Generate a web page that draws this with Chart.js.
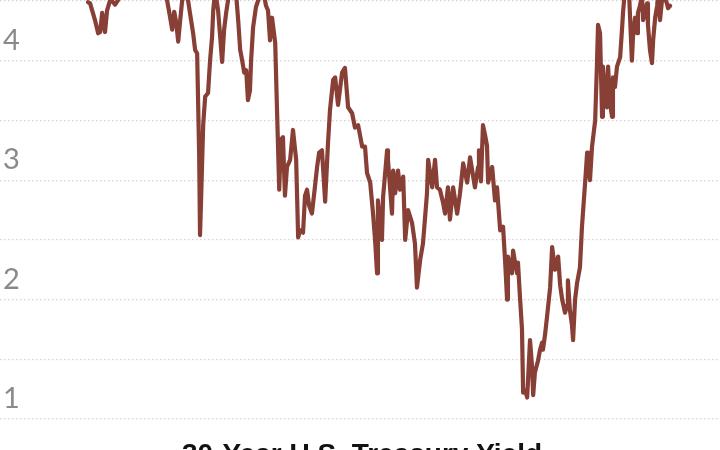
<!DOCTYPE html>
<html>
<head>
<meta charset="utf-8">
<script src="https://cdn.jsdelivr.net/npm/chart.js@4.4.1/dist/chart.umd.min.js"></script>
<style>
  html, body { margin: 0; padding: 0; background: #fff; }
</style>
</head>
<body>
<canvas id="yieldChart" width="720" height="450"></canvas>
<script>
// 30-year yield (decimal year -> percent)
const years = [
  2005.00, 2005.07, 2005.24, 2005.35, 2005.42, 2005.49, 2005.52, 2005.59, 2005.66, 2005.77,
  2005.87, 2005.94, 2006.05, 2006.18, 2006.46, 2006.81, 2007.16, 2007.51, 2007.68, 2007.75,
  2007.86, 2007.93, 2008.00, 2008.07, 2008.14, 2008.21, 2008.28, 2008.38, 2008.48, 2008.55,
  2008.66, 2008.73, 2008.80, 2008.87, 2008.90, 2008.94, 2009.01, 2009.08, 2009.18, 2009.25,
  2009.32, 2009.36, 2009.43, 2009.53, 2009.60, 2009.67, 2009.74, 2009.81, 2009.88, 2010.02,
  2010.16, 2010.23, 2010.30, 2010.37, 2010.44, 2010.51, 2010.57, 2010.64, 2010.68, 2010.75,
  2010.85, 2010.99, 2011.10, 2011.20, 2011.27, 2011.34, 2011.41, 2011.52, 2011.59, 2011.66,
  2011.72, 2011.79, 2011.86, 2011.93, 2012.04, 2012.14, 2012.25, 2012.32, 2012.39, 2012.49,
  2012.56, 2012.63, 2012.70, 2012.80, 2012.87, 2012.98, 2013.05, 2013.15, 2013.26, 2013.36,
  2013.43, 2013.54, 2013.61, 2013.71, 2013.85, 2013.95, 2014.06, 2014.20, 2014.30, 2014.41,
  2014.55, 2014.65, 2014.72, 2014.83, 2014.93, 2015.00, 2015.07, 2015.10, 2015.17, 2015.24,
  2015.28, 2015.42, 2015.45, 2015.59, 2015.63, 2015.70, 2015.80, 2015.87, 2015.98, 2016.05,
  2016.15, 2016.29, 2016.39, 2016.46, 2016.57, 2016.67, 2016.81, 2016.85, 2016.99, 2017.09,
  2017.16, 2017.26, 2017.37, 2017.44, 2017.54, 2017.61, 2017.72, 2017.86, 2017.96, 2018.07,
  2018.21, 2018.31, 2018.48, 2018.59, 2018.62, 2018.69, 2018.76, 2018.83, 2018.90, 2018.94,
  2019.08, 2019.18, 2019.25, 2019.36, 2019.46, 2019.53, 2019.60, 2019.63, 2019.70, 2019.77,
  2019.81, 2019.88, 2019.95, 2019.98, 2020.05, 2020.12, 2020.16, 2020.23, 2020.30, 2020.40,
  2020.47, 2020.51, 2020.57, 2020.68, 2020.75, 2020.82, 2020.85, 2020.92, 2020.99, 2021.10,
  2021.17, 2021.24, 2021.27, 2021.38, 2021.45, 2021.52, 2021.62, 2021.69, 2021.72, 2021.79,
  2021.86, 2021.90, 2021.97, 2022.04, 2022.14, 2022.21, 2022.32, 2022.39, 2022.42, 2022.49,
  2022.56, 2022.67, 2022.73, 2022.77, 2022.84, 2022.91, 2022.94, 2023.01, 2023.08, 2023.12,
  2023.19, 2023.26, 2023.29, 2023.36, 2023.43, 2023.54, 2023.61, 2023.64, 2023.71, 2023.78,
  2023.82, 2023.89, 2023.95, 2023.99, 2024.06, 2024.13, 2024.16, 2024.23, 2024.30, 2024.34,
  2024.41, 2024.48, 2024.51, 2024.58, 2024.65, 2024.69, 2024.76, 2024.83, 2024.86, 2024.93,
  2025.00, 2025.07, 2025.12, 2025.17, 2025.21, 2025.28
];

const yields = [
  4.49, 4.48, 4.34, 4.23, 4.24, 4.40, 4.34, 4.24, 4.42, 4.51,
  4.49, 4.47, 4.51, 4.60, 4.85, 4.75, 4.85, 5.05, 4.75, 4.51,
  4.36, 4.26, 4.41, 4.32, 4.16, 4.34, 4.51, 4.55, 4.51, 4.40,
  4.23, 4.09, 4.06, 3.22, 2.54, 2.86, 3.46, 3.70, 3.73, 4.00,
  4.20, 4.42, 4.59, 4.42, 4.21, 3.99, 4.26, 4.40, 4.51, 4.63,
  4.55, 4.34, 4.09, 4.00, 3.90, 3.92, 3.67, 3.75, 4.00, 4.28,
  4.45, 4.55, 4.59, 4.46, 4.42, 4.17, 4.36, 4.15, 3.53, 2.92,
  3.34, 3.36, 2.87, 3.11, 3.17, 3.42, 3.17, 2.52, 2.58, 2.56,
  2.87, 2.92, 2.79, 2.72, 2.87, 3.11, 3.23, 3.25, 2.82, 3.31,
  3.59, 3.84, 3.86, 3.63, 3.90, 3.94, 3.61, 3.56, 3.44, 3.46,
  3.28, 3.28, 3.06, 2.98, 2.72, 2.50, 2.22, 2.83, 2.67, 2.50,
  2.86, 3.25, 3.17, 2.72, 3.08, 2.89, 3.08, 2.92, 3.03, 2.50,
  2.75, 2.64, 2.47, 2.10, 2.33, 2.47, 2.89, 3.17, 2.94, 3.17,
  2.94, 2.92, 2.81, 2.72, 2.94, 2.67, 2.94, 2.72, 2.89, 3.14,
  2.98, 3.19, 2.94, 3.11, 3.25, 2.99, 3.46, 3.38, 3.29, 2.98,
  3.11, 2.83, 2.94, 2.58, 2.61, 2.33, 2.00, 2.36, 2.29, 2.22,
  2.41, 2.31, 2.22, 2.31, 2.02, 1.75, 1.22, 1.24, 1.18, 1.66,
  1.44, 1.20, 1.39, 1.49, 1.58, 1.64, 1.58, 1.70, 1.85, 2.10,
  2.44, 2.31, 2.25, 2.36, 2.12, 2.00, 1.89, 1.95, 2.16, 1.91,
  1.79, 1.66, 2.00, 2.14, 2.27, 2.61, 2.98, 3.23, 3.13, 3.00,
  3.28, 3.50, 3.95, 4.30, 4.23, 3.53, 3.95, 3.75, 3.61, 3.95,
  3.64, 3.53, 3.86, 3.78, 3.95, 4.03, 4.28, 4.40, 4.60, 5.05,
  4.75, 4.34, 4.00, 4.21, 4.36, 4.23, 4.40, 4.46, 4.55, 4.34,
  4.42, 4.48, 4.30, 4.09, 3.98, 4.17, 4.36, 4.46, 4.55, 4.34,
  4.51, 4.70, 4.51, 4.48, 4.44, 4.46
];

const yTickLabels = [1, 2, 3, 4];
const chartTitle = "30-Year U.S. Treasury Yield";

// y labels sit just above their gridline, title at the bottom edge
const overlayText = {
  id: "overlayText",
  beforeDatasetsDraw(chart) {
    const ctx = chart.ctx;
    const yScale = chart.scales.y;
    ctx.save();
    ctx.font = "29px Lato";
    ctx.fillStyle = "#8a8a8a";
    ctx.textAlign = "left";
    ctx.textBaseline = "alphabetic";
    yTickLabels.forEach(v => {
      ctx.fillText(String(v), 3, yScale.getPixelForValue(v) - 11);
    });
    ctx.restore();
  },
  afterDraw(chart) {
    const ctx = chart.ctx;
    ctx.save();
    ctx.font = "bold 28px 'Liberation Sans'";
    ctx.fillStyle = "#121212";
    ctx.textAlign = "center";
    ctx.textBaseline = "alphabetic";
    ctx.fillText(chartTitle, 362, 463);
    ctx.restore();
  }
};

const ctxYield = document.getElementById("yieldChart").getContext("2d");
const yieldChart = new Chart(ctxYield, {
  type: "line",
  data: {
    datasets: [{
      data: years.map((yr, i) => ({ x: yr, y: yields[i] })),
      borderColor: "#884036",
      borderWidth: 4.2,
      borderJoinStyle: "round",
      borderCapStyle: "round",
      pointRadius: 0,
      tension: 0,
      fill: false,
      clip: false
    }]
  },
  options: {
    responsive: false,
    animation: false,
    layout: { padding: { top: 1, bottom: 31, left: 0, right: 0 } },
    plugins: {
      legend: { display: false },
      tooltip: { enabled: false }
    },
    scales: {
      x: {
        type: "linear",
        min: 2001.93,
        max: 2027.02,
        display: false
      },
      y: {
        min: 1,
        max: 4.5,
        ticks: { display: false, stepSize: 0.5 },
        grid: { color: "#d4d4d4", drawTicks: false, lineWidth: 1.2 },
        border: { display: false, dash: [1.5, 2.5] }
      }
    }
  },
  plugins: [overlayText]
});
</script>
</body>
</html>
